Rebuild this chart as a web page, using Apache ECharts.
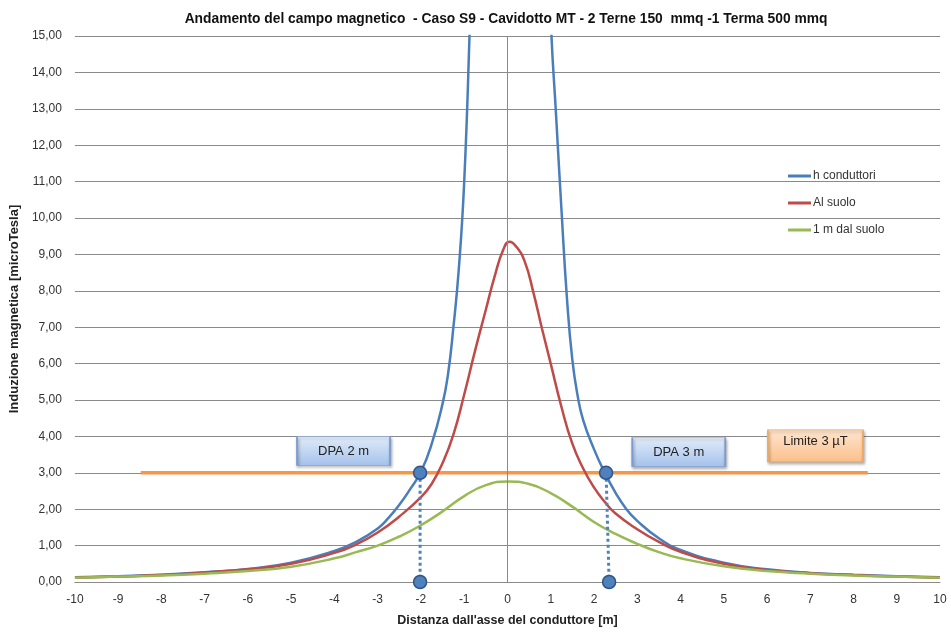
<!DOCTYPE html>
<html>
<head>
<meta charset="utf-8">
<script src="https://cdn.jsdelivr.net/npm/echarts@6/dist/echarts.min.js"></script>
<style>
  html, body { margin: 0; padding: 0; background: #fff; }
  #chart { width: 951px; height: 633px; }
</style>
</head>
<body>
<div id="chart"></div>
<script>
// h conduttori (blue) - goes off the top of the chart near the axis
var blueX = [-10, -9, -8, -7, -6, -5, -4, -3.5, -3, -2.75, -2.5, -2.25, -2, -1.75, -1.5, -1.375, -1.25, -1.125, -1.0, -0.875, -0.75, 0.08, 0.9, 1.0, 1.125, 1.25, 1.375, 1.5, 1.625, 1.75, 2.0, 2.25, 2.5, 2.75, 3, 3.5, 4, 5, 6, 7, 8, 9, 10]
var blueY = [0.13, 0.16, 0.2, 0.27, 0.36, 0.53, 0.85, 1.1, 1.47, 1.76, 2.12, 2.55, 3.03, 3.8, 4.9, 5.7, 7.0, 8.6, 11.0, 15.1, 20, 60, 20, 15.5, 12.8, 10.2, 7.8, 6.1, 5.1, 4.45, 3.65, 3.0, 2.45, 2.0, 1.68, 1.2, 0.88, 0.53, 0.35, 0.25, 0.2, 0.16, 0.13]
// Al suolo (red)
var redX = [-10, -9, -8, -7, -6, -5, -4, -3.5, -3, -2.5, -2, -1.75, -1.5, -1.25, -1.0, -0.75, -0.5, -0.3, -0.1, 0.05, 0.2, 0.4, 0.6, 0.8, 1.0, 1.25, 1.5, 1.75, 2.0, 2.25, 2.5, 3, 3.5, 4, 5, 6, 7, 8, 9, 10]
var redY = [0.12, 0.15, 0.19, 0.26, 0.35, 0.5, 0.8, 1.03, 1.36, 1.8, 2.33, 2.7, 3.27, 4.05, 5.15, 6.35, 7.48, 8.38, 9.12, 9.35, 9.22, 8.8, 7.95, 6.95, 6.0, 4.8, 3.8, 3.12, 2.6, 2.2, 1.88, 1.45, 1.1, 0.83, 0.5, 0.33, 0.24, 0.19, 0.15, 0.12]
// 1 m dal suolo (green)
var greenX = [-10, -9, -8, -7, -6, -5, -4, -3.5, -3, -2.5, -2, -1.5, -1, -0.5, 0, 0.5, 1, 1.5, 2, 2.5, 3, 3.5, 4, 5, 6, 7, 8, 9, 10]
var greenY = [0.12, 0.15, 0.18, 0.23, 0.3, 0.42, 0.65, 0.82, 1.0, 1.25, 1.56, 1.94, 2.36, 2.66, 2.76, 2.69, 2.44, 2.07, 1.65, 1.32, 1.05, 0.82, 0.65, 0.43, 0.3, 0.23, 0.18, 0.15, 0.12]
// limit line 3 uT
var limitX = [-8.48, 8.33]
var limitY = [3, 3]
// DPA markers: top point on the limit, bottom point on the axis
var dpaTopX = [-2.02, 2.28]
var dpaBottomX = [-2.02, 2.35]
var dpaTopY = 3
var dpaBottomY = 0
// text boxes [x, y, text, style]
var boxes = [
  [-3.79, 3.6, 'DPA 2 m', 'blue'],
  [3.96, 3.57, 'DPA 3 m', 'blue'],
  [7.12, 3.74, 'Limite 3 \u00b5T', 'orange']
]

var seriesNames = ['h conduttori', 'Al suolo', '1 m dal suolo']

function pairs (xs, ys) {
  return xs.map(function (x, i) { return [x, ys[i]] })
}

var font = "'Liberation Sans', Arial, sans-serif"

var blueBox = new echarts.graphic.LinearGradient(0, 0, 0, 1, [
  { offset: 0, color: '#e2ecfa' },
  { offset: 1, color: '#a4c1eb' }
])
var orangeBox = new echarts.graphic.LinearGradient(0, 0, 0, 1, [
  { offset: 0, color: '#fee6cf' },
  { offset: 1, color: '#fbbf8a' }
])

var boxPoints = boxes.map(function (b) {
  var isBlue = b[3] === 'blue'
  return {
    name: b[2],
    coord: [b[0], b[1]],
    symbol: 'rect',
    symbolSize: isBlue ? [93, 29] : [95, 32],
    itemStyle: {
      color: isBlue ? blueBox : orangeBox,
      borderColor: isBlue ? '#7a9cd3' : '#f0a866',
      borderWidth: 1,
      shadowBlur: 3,
      shadowOffsetY: 2,
      shadowOffsetX: 1,
      shadowColor: 'rgba(0,0,0,0.35)'
    },
    label: {
      show: true,
      position: 'inside',
      formatter: '{b}',
      color: '#222',
      fontSize: 13,
      fontFamily: font,
      offset: [0, isBlue ? 0 : -4]
    }
  }
})

var chart = echarts.init(document.getElementById('chart'))

var option = {
  backgroundColor: '#fff',
  animation: false,
  title: {
    text: 'Andamento del campo magnetico  - Caso S9 - Cavidotto MT - 2 Terne 150  mmq -1 Terma 500 mmq',
    left: 501,
    textAlign: 'center',
    top: 7,
    textStyle: { fontFamily: font, fontSize: 13.8, fontWeight: 'bold', color: '#111' }
  },
  legend: {
    data: seriesNames,
    orient: 'vertical',
    left: 788,
    top: 170,
    padding: 0,
    itemGap: 15,
    itemWidth: 23,
    itemHeight: 3,
    icon: 'rect',
    textStyle: { fontFamily: font, fontSize: 12, color: '#333', padding: [0, 0, 0, -3] }
  },
  grid: { left: 74, right: 11, top: 36, bottom: 51 },
  xAxis: {
    type: 'value',
    min: -10,
    max: 10,
    interval: 1,
    name: "Distanza dall'asse del conduttore [m]",
    nameLocation: 'middle',
    nameGap: 32,
    nameTextStyle: { fontFamily: font, fontSize: 12.5, fontWeight: 'bold', color: '#222' },
    axisLine: { show: true, onZero: false, lineStyle: { color: '#8a8a8a', width: 1 } },
    axisTick: { show: false },
    axisLabel: { fontFamily: font, fontSize: 12, color: '#333', margin: 12 },
    splitLine: { show: false }
  },
  yAxis: {
    type: 'value',
    min: 0,
    max: 15,
    interval: 1,
    name: 'Induzione magnetica [microTesla]',
    nameLocation: 'middle',
    nameGap: 52,
    nameTextStyle: { fontFamily: font, fontSize: 13, fontWeight: 'bold', color: '#222' },
    axisLine: { show: false },
    axisTick: { show: true, length: 4, lineStyle: { color: '#8a8a8a' } },
    axisLabel: {
      fontFamily: font,
      fontSize: 12,
      color: '#333',
      margin: 13,
      formatter: function (v) { return v.toFixed(2).replace('.', ',') }
    },
    splitLine: { show: true, lineStyle: { color: '#8a8a8a', width: 1 } }
  },
  series: [
    {
      name: 'axis0',
      type: 'line',
      data: [],
      silent: true,
      markLine: {
        silent: true,
        symbol: 'none',
        label: { show: false },
        lineStyle: { color: '#8a8a8a', width: 1, type: 'solid' },
        data: [{ xAxis: 0 }]
      }
    },
    {
      name: seriesNames[0],
      type: 'line',
      smooth: 0.5,
      showSymbol: false,
      clip: true,
      color: '#4a7ebb',
      lineStyle: { width: 2.5, color: '#4a7ebb' },
      data: pairs(blueX, blueY),
      z: 3
    },
    {
      name: seriesNames[1],
      type: 'line',
      smooth: 0.5,
      showSymbol: false,
      clip: true,
      color: '#be4b48',
      lineStyle: { width: 2.5, color: '#be4b48' },
      data: pairs(redX, redY),
      z: 3
    },
    {
      name: seriesNames[2],
      type: 'line',
      smooth: 0.5,
      showSymbol: false,
      clip: true,
      color: '#98b954',
      lineStyle: { width: 2.5, color: '#98b954' },
      data: pairs(greenX, greenY),
      z: 3
    },
    {
      name: 'Limite',
      type: 'line',
      showSymbol: false,
      color: '#f79646',
      lineStyle: { width: 3.5, color: '#f79646' },
      data: pairs(limitX, limitY),
      markPoint: { data: boxPoints },
      z: 2
    },
    {
      name: 'DPA sx',
      type: 'line',
      symbol: 'circle',
      symbolSize: 13,
      itemStyle: { color: '#4f81bd', borderColor: '#2f5588', borderWidth: 1.5 },
      lineStyle: { color: '#4f81bd', width: 3, type: 'dotted' },
      data: [[dpaTopX[0], dpaTopY], [dpaBottomX[0], dpaBottomY]],
      clip: false,
      z: 5
    },
    {
      name: 'DPA dx',
      type: 'line',
      symbol: 'circle',
      symbolSize: 13,
      itemStyle: { color: '#4f81bd', borderColor: '#2f5588', borderWidth: 1.5 },
      lineStyle: { color: '#4f81bd', width: 3, type: 'dotted' },
      data: [[dpaTopX[1], dpaTopY], [dpaBottomX[1], dpaBottomY]],
      clip: false,
      z: 5
    }
  ]
}

chart.setOption(option)
</script>
</body>
</html>
